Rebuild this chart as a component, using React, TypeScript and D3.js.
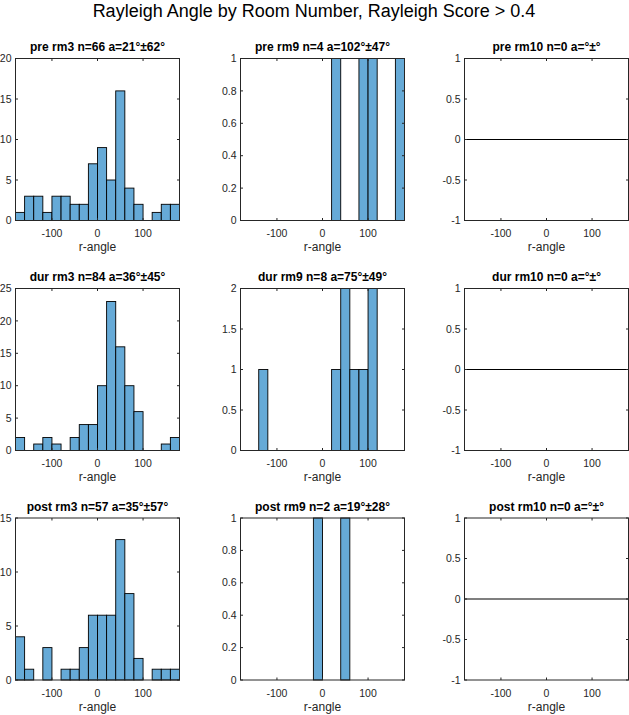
import React, { useRef, useEffect } from 'react';
import * as d3 from 'd3';

// histogram bin edges (degrees)
const binEdges = [-180, -160, -140, -120, -100, -80, -60, -40, -20, 0, 20, 40, 60, 80, 100, 120, 140, 160, 180];

// counts per bin
const preRm3 = [1, 3, 3, 1, 3, 3, 2, 2, 7, 9, 5, 16, 4, 2, 0, 1, 2, 2];
const preRm9 = [0, 0, 0, 0, 0, 0, 0, 0, 0, 0, 1, 0, 0, 1, 1, 0, 0, 1];
const preRm10: number[] = [];
const durRm3 = [2, 0, 1, 2, 1, 0, 2, 4, 4, 10, 23, 16, 10, 6, 0, 0, 1, 2];
const durRm9 = [0, 0, 1, 0, 0, 0, 0, 0, 0, 0, 1, 2, 1, 1, 2, 0, 0, 0];
const durRm10: number[] = [];
const postRm3 = [4, 1, 0, 3, 0, 1, 1, 3, 6, 6, 6, 13, 8, 2, 0, 1, 1, 1];
const postRm9 = [0, 0, 0, 0, 0, 0, 0, 0, 1, 0, 0, 1, 0, 0, 0, 0, 0, 0];
const postRm10: number[] = [];

const titles = [
  'pre rm3 n=66 a=21°±62°', 'pre rm9 n=4 a=102°±47°', 'pre rm10 n=0 a=°±°',
  'dur rm3 n=84 a=36°±45°', 'dur rm9 n=8 a=75°±49°', 'dur rm10 n=0 a=°±°',
  'post rm3 n=57 a=35°±57°', 'post rm9 n=2 a=19°±28°', 'post rm10 n=0 a=°±°',
];
const counts = [preRm3, preRm9, preRm10, durRm3, durRm9, durRm10, postRm3, postRm9, postRm10];

const xTicks = [-100, 0, 100];
const yTicksList = [
  [0, 5, 10, 15, 20], [0, 0.2, 0.4, 0.6, 0.8, 1], [-1, -0.5, 0, 0.5, 1],
  [0, 5, 10, 15, 20, 25], [0, 0.5, 1, 1.5, 2], [-1, -0.5, 0, 0.5, 1],
  [0, 5, 10, 15], [0, 0.2, 0.4, 0.6, 0.8, 1], [-1, -0.5, 0, 0.5, 1],
];

const mainTitle = 'Rayleigh Angle by Room Number, Rayleigh Score > 0.4';
const xLabel = 'r-angle';

const FONT = '"Liberation Sans", Arial, Helvetica, sans-serif';
const AXIS = '#262626';
const BAR = 'rgb(102,170,215)';

function App() {
  const svgRef = useRef<SVGSVGElement>(null);

  useEffect(() => {
    const svg = d3.select(svgRef.current);
    svg.selectAll('*').remove();

    const colX = [15.5, 240.5, 464.5];
    const rowY = [58.5, 288.5, 518];
    const w = 164;
    const h = 162;
    const tick = 2.5;

    svg.append('text')
      .attr('x', 314)
      .attr('y', 17)
      .attr('text-anchor', 'middle')
      .style('font-family', FONT)
      .style('font-size', '18px')
      .attr('fill', '#000')
      .text(mainTitle);

    counts.forEach((c, i) => {
      const row = Math.floor(i / 3);
      const col = i % 3;
      const yTicks = yTicksList[i];
      const g = svg.append('g').attr('transform', `translate(${colX[col]},${rowY[row]})`);

      const x = d3.scaleLinear().domain([binEdges[0], binEdges[binEdges.length - 1]]).range([0, w]);
      const y = d3.scaleLinear().domain([yTicks[0], yTicks[yTicks.length - 1]]).range([h, 0]);

      // bars
      const bins = c.map((v, k) => ({ x0: binEdges[k], x1: binEdges[k + 1], v })).filter(d => d.v > 0);
      g.selectAll('.bar')
        .data(bins)
        .enter()
        .append('rect')
        .attr('x', d => x(d.x0))
        .attr('width', d => x(d.x1) - x(d.x0))
        .attr('y', d => y(d.v))
        .attr('height', d => y(0) - y(d.v))
        .attr('fill', BAR)
        .attr('stroke', '#000')
        .attr('stroke-width', 0.9);

      // empty histogram: baseline at zero
      if (c.length === 0) {
        g.append('line')
          .attr('x1', 0).attr('x2', w)
          .attr('y1', y(0)).attr('y2', y(0))
          .attr('stroke', '#000')
          .attr('stroke-width', 1.2);
      }

      // box
      g.append('rect')
        .attr('x', 0).attr('y', 0)
        .attr('width', w).attr('height', h)
        .attr('fill', 'none')
        .attr('stroke', AXIS)
        .attr('stroke-width', 1);

      // x ticks (inside, top and bottom)
      xTicks.forEach(t => {
        g.append('line').attr('x1', x(t)).attr('x2', x(t)).attr('y1', h).attr('y2', h - tick).attr('stroke', AXIS);
        g.append('line').attr('x1', x(t)).attr('x2', x(t)).attr('y1', 0).attr('y2', tick).attr('stroke', AXIS);
        g.append('text')
          .attr('x', x(t))
          .attr('y', h + 16.5)
          .attr('text-anchor', 'middle')
          .style('font-family', FONT)
          .style('font-size', '10.5px')
          .attr('fill', AXIS)
          .text(String(t));
      });

      // y ticks (inside, left and right)
      yTicks.forEach(t => {
        g.append('line').attr('x1', 0).attr('x2', tick).attr('y1', y(t)).attr('y2', y(t)).attr('stroke', AXIS);
        g.append('line').attr('x1', w).attr('x2', w - tick).attr('y1', y(t)).attr('y2', y(t)).attr('stroke', AXIS);
        g.append('text')
          .attr('x', -4)
          .attr('y', y(t))
          .attr('dy', '0.35em')
          .attr('text-anchor', 'end')
          .style('font-family', FONT)
          .style('font-size', '10.5px')
          .attr('fill', AXIS)
          .text(String(t));
      });

      // subplot title
      g.append('text')
        .attr('x', w / 2)
        .attr('y', -7.5)
        .attr('text-anchor', 'middle')
        .style('font-family', FONT)
        .style('font-size', '12px')
        .style('font-weight', 'bold')
        .attr('fill', '#000')
        .text(titles[i]);

      // x label
      g.append('text')
        .attr('x', w / 2)
        .attr('y', h + 30.5)
        .attr('text-anchor', 'middle')
        .style('font-family', FONT)
        .style('font-size', '12px')
        .attr('fill', AXIS)
        .text(xLabel);
    });
  }, []);

  return (
    <svg
      ref={svgRef}
      width={629}
      height={715}
      style={{ position: 'absolute', left: 0, top: 0, background: '#fff' }}
    />
  );
}

export default App;
